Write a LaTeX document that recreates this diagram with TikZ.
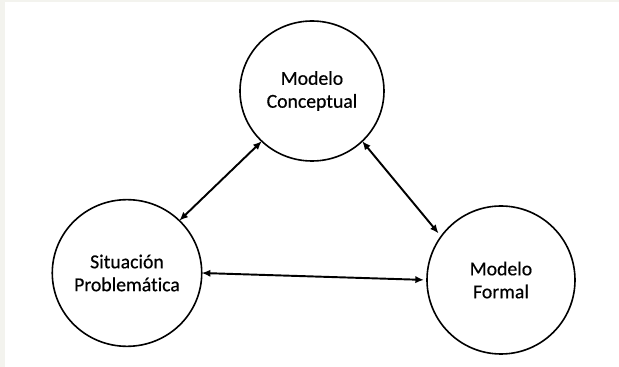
\documentclass[tikz,border=0pt]{standalone}
\usepackage{fontspec}
\setmainfont{Carlito}
\newfontfamily\labelfont[FakeBold=0.5,Ligatures=NoCommon]{Carlito}
\usetikzlibrary{arrows.meta,shapes.geometric}
\definecolor{framegray}{RGB}{243,243,238}
\begin{document}
\begin{tikzpicture}[x=0.75pt,y=-0.75pt,
  stage/.style={ellipse,draw,line width=1.2pt,inner sep=0pt,outer sep=0pt,
    align=center,font=\labelfont\fontsize{14.8}{17.2}\selectfont},
  link/.style={line width=1.45pt,
    {Latex[length=6.5pt,width=5.5pt]}-{Latex[length=6.5pt,width=5.5pt]}}]
\useasboundingbox (0,0) rectangle (619,367);
% page and thin frame on top and left
\fill[white] (0,0) rectangle (619,367);
\fill[framegray] (0,0) rectangle (619,2);
\fill[framegray] (0,0) rectangle (5,367);

% the three stages
\node[stage,minimum width=108pt,minimum height=105pt] (mc) at (312,91) {Modelo\\Conceptual};
\node[stage,minimum width=111pt,minimum height=110pt] (sp) at (127,273) {Situación\\Problemática};
\node[stage,minimum width=111pt,minimum height=111pt] (mf) at (501,280) {Modelo\\Formal};

% two-way links between the stages
\draw[link] (sp.45) -- (mc.225);
\draw[link,shorten >=3pt] (mc.-45) -- (mf.144);
\draw[link,shorten >=2.25pt] (sp.0) -- (mf.180);
\end{tikzpicture}
\end{document}
